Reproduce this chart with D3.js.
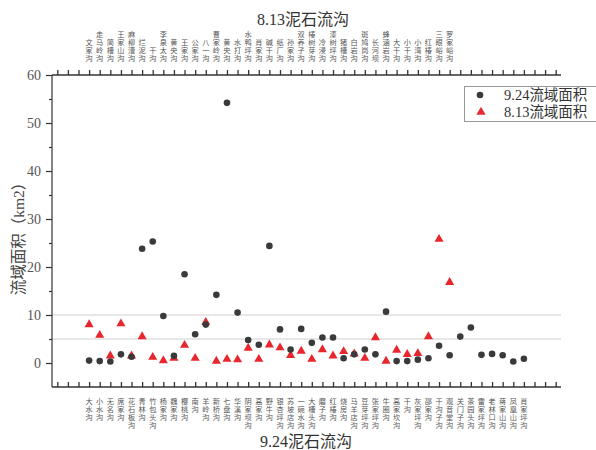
<!DOCTYPE html>
<html>
<head>
<meta charset="utf-8">
<script src="https://cdn.jsdelivr.net/npm/d3@7"></script>
<style>
  html, body { margin: 0; padding: 0; background: #fff; }
  svg { display: block; }
</style>
</head>
<body>
<svg id="chart" width="596" height="450"></svg>
<script>
// 9.24 debris-flow gullies (bottom axis) and their catchment areas (km2)
const gullies924 = ["大水沟","小水沟","无名沟","席家沟","花石板沟","青林沟","竹包头沟","杨家沟","魏家沟","樱桃沟",
  "南沟","羊岭沟","新桥沟","七盘沟","华溪沟","阴家坝沟","高家沟","野牛沟","银杏坪沟","苏坡店沟",
  "一碗水沟","大槽头沟","磨子沟","红椿沟","烧房沟","马羊店沟","豆芽坪沟","张家坪沟","牛圈沟","高家坎沟",
  "干沟","灰家坪沟","邵家沟","干沟子沟","观音堂沟","关门子沟","茶园头沟","雷家坪沟","老林口沟","蒋家山沟",
  "凤凰山沟","肖家坪沟"];
const area924 = [0.5,0.4,0.3,1.8,1.3,23.8,25.3,9.8,1.5,18.5,
  6.0,8.0,14.2,54.2,10.5,4.8,3.8,24.4,7.0,2.8,
  7.1,4.2,5.3,5.3,1.0,1.8,2.8,1.8,10.7,0.4,
  0.4,0.7,1.0,3.6,1.6,5.5,7.4,1.7,1.9,1.6,
  0.3,0.9];

// 8.13 debris-flow gullies (top axis) and their catchment areas (km2)
const gullies813 = ["文家沟","走马岭沟","简槽沟","王家山沟","麻柳漕沟","烂泥沟","干沟","李泉太沟","黄央沟","王家沟",
  "公家沟","八一沟","曹家岭沟","黄央沟","水打沟","水鸭坪沟","肖家沟","碱干沟","纸厂沟","孙家沟",
  "双养子沟","椿树芽沟","冷浸沟","漆树坪沟","猪槽沟","白岩沟","斑鸠岗沟","长河坝","蜂涵岩沟","大干沟",
  "小干沟","小湾沟","红椿沟","三眼峪沟","罗家峪沟"];
const area813 = [8.0,5.8,1.5,8.2,1.5,5.5,1.2,0.5,1.0,3.7,
  1.0,8.5,0.4,0.8,0.7,3.1,0.8,3.8,3.2,1.6,
  2.5,0.8,2.8,1.5,2.4,1.9,1.0,5.3,0.4,2.7,
  1.8,2.0,5.5,25.8,16.8];

const yTicks = [0, 10, 20, 30, 40, 50, 60];
const yMinorTicks = [5, 15, 25, 35, 45, 55];
const refLines = [5, 10];
const firstSlot = 3;      // first occupied position on the category axis
const slotCount = 48;     // tick positions 0..47

const svg = d3.select("#chart");
const plotLeft = 52, plotRight = 561, plotTop = 75, plotBottom = 387;

const x = d3.scaleLinear().domain([-0.5, slotCount - 0.5]).range([plotLeft, plotRight]);
const y = d3.scaleLinear().domain([-5, 60]).range([plotBottom, plotTop]);

const serif = "'Liberation Serif', 'Noto Sans CJK SC', serif";
const axisColor = "#333";

// reference lines
svg.append("g").selectAll("line").data(refLines).join("line")
  .attr("x1", plotLeft).attr("x2", plotRight)
  .attr("y1", d => y(d)).attr("y2", d => y(d))
  .attr("stroke", "#cfcfcf").attr("stroke-width", 1);

// left axis
const yAxis = svg.append("g").attr("transform", `translate(${plotLeft},0)`)
  .call(d3.axisLeft(y).tickValues(yTicks).tickSize(6).tickPadding(5).tickFormat(d3.format("d")));
yAxis.select(".domain").attr("stroke", axisColor).attr("stroke-width", 1.2).attr("d", `M0,${plotTop}V${plotBottom}`);
yAxis.selectAll(".tick line").attr("stroke", axisColor).attr("stroke-width", 1.2);
yAxis.selectAll(".tick text").attr("font-family", serif).attr("font-size", 14).attr("fill", "#555");
svg.append("g").attr("transform", `translate(${plotLeft},0)`)
  .call(d3.axisLeft(y).tickValues(yMinorTicks).tickSize(3).tickFormat(""))
  .call(g => g.select(".domain").remove())
  .selectAll("line").attr("stroke", axisColor).attr("stroke-width", 1.2);

// top and bottom category axes (ticks pointing up on both)
const slots = d3.range(slotCount);
const topAxis = svg.append("g").attr("transform", `translate(0,${plotTop})`)
  .call(d3.axisTop(x).tickValues(slots).tickSize(5).tickFormat(""));
const bottomAxis = svg.append("g").attr("transform", `translate(0,${plotBottom})`)
  .call(d3.axisBottom(x).tickValues(slots).tickSize(-5).tickFormat(""));
[topAxis, bottomAxis].forEach(g => {
  g.select(".domain").attr("stroke", axisColor).attr("stroke-width", 1.5).attr("d", `M${plotLeft},0H${plotRight}`);
  g.selectAll(".tick line").attr("stroke", axisColor).attr("stroke-width", 1.3);
});

// vertical category labels, one character per line
const charStep = 8;
function verticalLabel(g, name, cx, firstCenter) {
  Array.from(name).forEach((c, k) => {
    g.append("text").attr("x", cx).attr("y", firstCenter + k * charStep)
      .attr("text-anchor", "middle").attr("dominant-baseline", "central")
      .attr("font-family", serif).attr("font-size", 7.2).attr("fill", "#555").text(c);
  });
}
const topLabels = svg.append("g");
gullies813.forEach((n, i) => {
  const len = Array.from(n).length;
  verticalLabel(topLabels, n, x(firstSlot + i), 59 - (len - 1) * charStep);
});
const bottomLabels = svg.append("g");
gullies924.forEach((n, i) => verticalLabel(bottomLabels, n, x(firstSlot + i), 402));

// axis titles
svg.append("text").attr("x", 303).attr("y", 25).attr("text-anchor", "middle")
  .attr("font-family", serif).attr("font-size", 16).attr("fill", "#333").text("8.13泥石流沟");
svg.append("text").attr("x", 306).attr("y", 447).attr("text-anchor", "middle")
  .attr("font-family", serif).attr("font-size", 16).attr("fill", "#333").text("9.24泥石流沟");
svg.append("text").attr("transform", `translate(18,235) rotate(-90)`).attr("text-anchor", "middle")
  .attr("dominant-baseline", "central")
  .attr("font-family", serif).attr("font-size", 15.5).attr("fill", "#444").text("流域面积（km2）");

// 8.13 series: red triangles
const tri = d3.symbol().type(d3.symbolTriangle).size(36);
svg.append("g").selectAll("path").data(area813).join("path")
  .attr("d", tri)
  .attr("transform", (d, i) => `translate(${x(firstSlot + i)},${y(d)})`)
  .attr("fill", "#e8262d");

// 9.24 series: dark circles
svg.append("g").selectAll("circle").data(area924).join("circle")
  .attr("cx", (d, i) => x(firstSlot + i)).attr("cy", d => y(d)).attr("r", 3.3)
  .attr("fill", "#3a3a3a");

// legend
const lg = svg.append("g");
lg.append("rect").attr("x", 464.5).attr("y", 86.5).attr("width", 140).attr("height", 35)
  .attr("fill", "#fff").attr("stroke", "#999").attr("stroke-width", 1);
lg.append("circle").attr("cx", 480).attr("cy", 95).attr("r", 3.3).attr("fill", "#3a3a3a");
lg.append("path").attr("d", tri).attr("transform", "translate(481,112)").attr("fill", "#e8262d");
lg.append("text").attr("x", 504).attr("y", 95).attr("dominant-baseline", "central")
  .attr("font-family", serif).attr("font-size", 14.5).attr("fill", "#333").text("9.24流域面积");
lg.append("text").attr("x", 504).attr("y", 112).attr("dominant-baseline", "central")
  .attr("font-family", serif).attr("font-size", 14.5).attr("fill", "#333").text("8.13流域面积");
</script>
</body>
</html>
